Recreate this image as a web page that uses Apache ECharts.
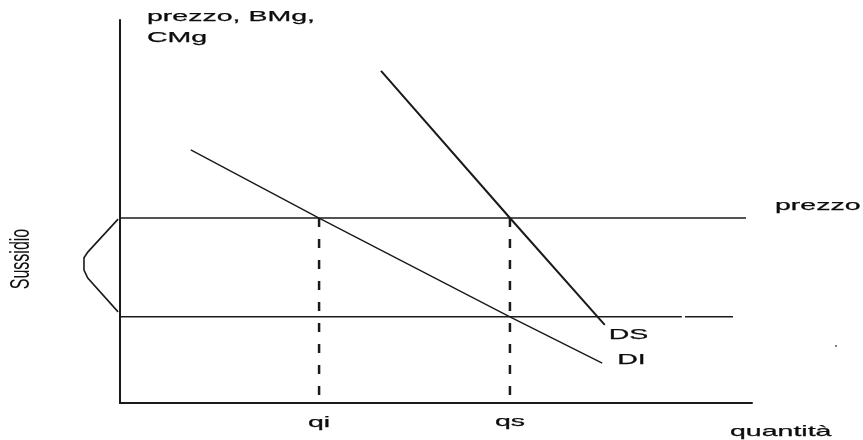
<!DOCTYPE html>
<html>
<head>
<meta charset="utf-8">
<script src="https://cdn.jsdelivr.net/npm/echarts@6/dist/echarts.min.js"></script>
<style>html,body{margin:0;padding:0;background:#fff;}#c{width:863px;height:440px;}</style>
</head>
<body>
<div id="c"></div>
<script>
// ---- data (abstract units: quantity 0..100, price 0..100) ----
const priceLevel = 48.3;        // "prezzo"
const subsidyLevel = 22.5;      // prezzo - sussidio
const qiValue = 31.5;
const qsValue = 61.7;
const diCurve = [[11.2, 66.1], [31.5, 48.3], [61.7, 22.5], [76.3, 10.4]];
const dsCurve = [[41.3, 86.7], [61.7, 48.3], [76.7, 20.4]];
const priceLineEnd = 99.05;
const lowerLineSegs = [[0, 88.9], [89.4, 97.0]];
const braceCurve = [[-0.3, 48.0], [-5.1, 39.4], [-5.7, 37.9], [-5.7, 34.7], [-5.1, 32.6], [-0.3, 23.8]];
const xTickLabels = ['qi', 'qs'];
const yTitleLines = ['prezzo, BMg,', 'CMg'];
const xTitle = 'quantità';
const priceLabel = 'prezzo';
const curveLabels = ['DS', 'DI'];
const braceLabel = 'Sussidio';

const chart = echarts.init(document.getElementById('c'), null, {renderer: 'canvas'});
const ink = '#1a1a1a';
const lineS = {color: ink, width: 1.5};
function seg(data, style, extra) {
  return Object.assign({type: 'line', data: data, symbol: 'none', silent: true,
    lineStyle: Object.assign({}, lineS, style || {})}, extra || {});
}
const series = [
  seg([[0, priceLevel], [priceLineEnd, priceLevel]]),
  seg([[lowerLineSegs[0][0], subsidyLevel], [lowerLineSegs[0][1], subsidyLevel]]),
  seg([[lowerLineSegs[1][0], subsidyLevel], [lowerLineSegs[1][1], subsidyLevel]]),
  seg(diCurve, {width: 1.4}),
  seg(dsCurve, {width: 2}),
  seg([[qiValue, priceLevel], [qiValue, 0]], {width: 2.5, type: [9, 12]}),
  seg([[qsValue, priceLevel], [qsValue, 0]], {width: 2.5, type: [9, 12]})
];
chart.setOption({
  animation: false,
  backgroundColor: '#fff',
  grid: {left: 120, right: 111, top: 20, bottom: 37},
  xAxis: {type: 'value', min: 0, max: 100,
    axisLine: {show: true, onZero: false, lineStyle: {color: ink, width: 2}},
    axisTick: {show: false}, axisLabel: {show: false}, splitLine: {show: false}},
  yAxis: {type: 'value', min: 0, max: 100,
    axisLine: {show: true, onZero: false, lineStyle: {color: ink, width: 2}},
    axisTick: {show: false}, axisLabel: {show: false}, splitLine: {show: false}},
  series: series
});

const P = (x, y) => chart.convertToPixel({gridIndex: 0}, [x, y]);
const SX = 1.9;
const font = '15px "Liberation Sans", Arial, sans-serif';
function txt(text, x, y, align, opts) {
  return Object.assign({type: 'text', x: x, y: y, scaleX: SX, silent: true,
    style: {text: text, font: font, fill: '#0d0d0d', stroke: '#0d0d0d', lineWidth: 0.25,
      textAlign: align || 'left', textVerticalAlign: 'middle'}}, opts || {});
}
const pQi = P(qiValue, 0), pQs = P(qsValue, 0);
const pPrice = P(priceLineEnd, priceLevel);
const pDS = P(dsCurve[dsCurve.length - 1][0], dsCurve[dsCurve.length - 1][1]);
const pDI = P(diCurve[diCurve.length - 1][0], diCurve[diCurve.length - 1][1]);
const origin = P(0, 100);
const axisEnd = P(100, 0);
const bracePts = braceCurve.map(p => P(p[0], p[1]));
chart.setOption({
  graphic: [
    {type: 'polyline', silent: true, shape: {points: bracePts},
      style: {stroke: ink, lineWidth: 1.6, fill: null}},
    txt(yTitleLines[0], origin[0] + 27, 17),
    txt(yTitleLines[1], origin[0] + 27, 38),
    txt(priceLabel, pPrice[0] + 29, pPrice[1] - 12),
    txt(curveLabels[0], pDS[0] + 4, pDS[1] + 10),
    txt(curveLabels[1], pDI[0] + 15, pDI[1] - 3),
    txt(xTickLabels[0], pQi[0], pQi[1] + 20, 'center'),
    txt(xTickLabels[1], pQs[0], pQs[1] + 19, 'center'),
    txt(xTitle, axisEnd[0] - 22, axisEnd[1] + 29),
    {type: 'text', x: 22, y: 259, rotation: Math.PI / 2, scaleY: 1.7, silent: true,
      style: {text: braceLabel, font: '16px "Liberation Sans", Arial, sans-serif', fill: '#111',
        textAlign: 'center', textVerticalAlign: 'middle'}},
    {type: 'circle', silent: true, shape: {cx: 836, cy: 346, r: 0.9}, style: {fill: '#444'}}
  ]
});
</script>
</body>
</html>
